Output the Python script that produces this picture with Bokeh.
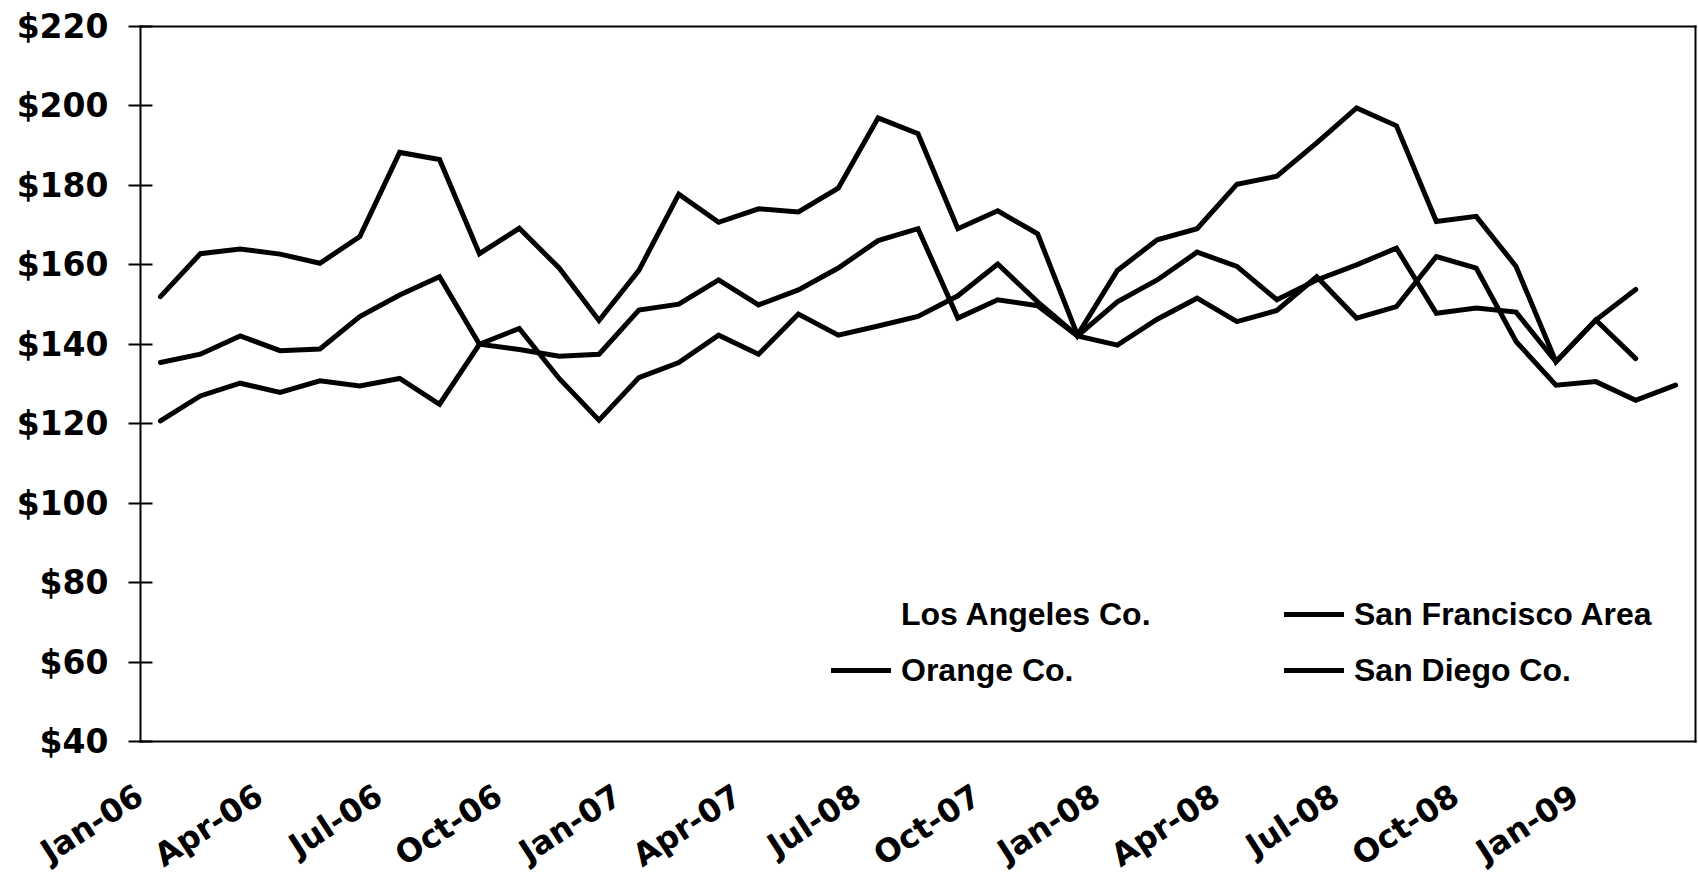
import math
from bokeh.plotting import figure
from bokeh.models import (Range1d, FixedTicker, NumeralTickFormatter, Legend, LegendItem,
                          LinearAxis)
from bokeh.core.properties import value
from bokeh.embed import file_html
from bokeh.resources import INLINE

# ---------------- data ----------------
months = ["Jan-06", "Feb-06", "Mar-06", "Apr-06", "May-06", "Jun-06", "Jul-06", "Aug-06", "Sep-06",
          "Oct-06", "Nov-06", "Dec-06", "Jan-07", "Feb-07", "Mar-07", "Apr-07", "May-07", "Jun-07",
          "Jul-07", "Aug-07", "Sep-07", "Oct-07", "Nov-07", "Dec-07", "Jan-08", "Feb-08", "Mar-08",
          "Apr-08", "May-08", "Jun-08", "Jul-08", "Aug-08", "Sep-08", "Oct-08", "Nov-08", "Dec-08",
          "Jan-09", "Feb-09", "Mar-09"]

# labels shown on the axis (every third month, as printed in the original, incl. its "Jul-08")
tick_months = ["Jan-06", "Apr-06", "Jul-06", "Oct-06", "Jan-07", "Apr-07", "Jul-07",
               "Oct-07", "Jan-08", "Apr-08", "Jul-08", "Oct-08", "Jan-09"]
tick_labels = ["Jan-06", "Apr-06", "Jul-06", "Oct-06", "Jan-07", "Apr-07", "Jul-08",
               "Oct-07", "Jan-08", "Apr-08", "Jul-08", "Oct-08", "Jan-09"]

y_ticks = [40, 60, 80, 100, 120, 140, 160, 180, 200, 220]

los_angeles = []  # series drawn without a visible line in the original

san_francisco = [152.0, 162.8, 164.0, 162.7, 160.4, 167.1, 188.3, 186.5, 162.8, 169.2,
                 159.2, 146.0, 158.6, 177.8, 170.7, 174.1, 173.3, 179.3, 197.0, 193.0,
                 169.1, 173.6, 167.8, 142.3, 158.6, 166.3, 169.1, 180.3, 182.3, 190.7,
                 199.5, 195.0, 170.9, 172.2, 159.6, 135.6, 146.1, 136.4]

orange = [135.4, 137.5, 142.1, 138.4, 138.8, 147.0, 152.4, 157.0, 140.0, 138.7,
          137.0, 137.5, 148.6, 150.1, 156.2, 149.9, 153.7, 159.2, 166.1, 169.1,
          146.6, 151.2, 149.7, 142.1, 139.8, 146.3, 151.6, 145.7, 148.5, 157.0,
          146.6, 149.5, 162.1, 159.2, 140.7, 129.7, 130.6, 125.9, 129.7]

san_diego = [120.7, 127.0, 130.2, 127.9, 130.8, 129.5, 131.4, 124.9, 140.0, 144.0,
             131.4, 120.9, 131.6, 135.4, 142.3, 137.5, 147.6, 142.3, 144.6, 147.0,
             152.2, 160.2, 150.7, 142.1, 150.7, 156.2, 163.2, 159.6, 151.2, 156.2,
             160.0, 164.2, 147.8, 149.1, 148.1, 135.6, 146.1, 153.8]

# month positions on the axis (category index)
pos = {m: i for i, m in enumerate(months)}

def xs(series):
    return [pos[m] for m in months[:len(series)]]

# ---------------- layout ----------------
W, H = 1698, 876
LEFT, RIGHT, TOP, BOTTOM = 140, 3, 26, 135   # margins around the plotting box
LEG_FONT = "Liberation Sans"
AX_FONT = "DejaVu Sans"
Y_MIN, Y_MAX = y_ticks[0], y_ticks[-1]
X_START, X_END = -0.5, len(months) - 0.5

ppx = (W - LEFT - RIGHT) / (X_END - X_START)
ppy = (H - TOP - BOTTOM) / (Y_MAX - Y_MIN)

# the drawing area covers the whole canvas; the boxed plot area is drawn with bounded axes
p = figure(width=W, height=H,
           x_range=Range1d(X_START - LEFT / ppx, X_END + RIGHT / ppx),
           y_range=Range1d(Y_MIN - BOTTOM / ppy, Y_MAX + TOP / ppy),
           output_backend="svg", toolbar_location=None,
           x_axis_location=None, y_axis_location=None,
           min_border=0, min_border_left=0, min_border_right=0,
           min_border_top=0, min_border_bottom=0)
p.xgrid.visible = False
p.ygrid.visible = False
p.outline_line_color = None
p.background_fill_color = "white"
p.border_fill_color = "white"

# y axis
yax = LinearAxis(fixed_location=X_START, bounds=(Y_MIN, Y_MAX),
                 ticker=FixedTicker(ticks=y_ticks),
                 formatter=NumeralTickFormatter(format="$0"),
                 axis_line_width=2, axis_line_cap="square",
                 major_tick_line_width=2, major_tick_out=12, major_tick_in=12,
                 minor_tick_line_color=None, major_label_standoff=20,
                 major_label_text_font=AX_FONT, major_label_text_font_style="bold",
                 major_label_text_font_size="33px", major_label_text_color="black")
p.add_layout(yax, "left")

# x axis line and the remaining sides of the box
def border(loc, bnds):
    return LinearAxis(fixed_location=loc, bounds=bnds, ticker=FixedTicker(ticks=[]),
                      axis_line_width=2, axis_line_cap="square",
                      major_tick_line_color=None, minor_tick_line_color=None,
                      major_tick_out=0, major_tick_in=0, major_label_standoff=0)

p.add_layout(border(Y_MIN, (X_START, X_END)), "below")
p.add_layout(border(Y_MAX, (X_START, X_END)), "above")
p.add_layout(border(X_END, (Y_MIN, Y_MAX)), "right")

# slanted month labels under the x axis
p.text(x=[pos[m] for m in tick_months], y=[Y_MIN] * len(tick_months), text=tick_labels,
       angle=math.radians(33), x_offset=-31, y_offset=35,
       text_align="right", text_baseline="top",
       text_font=value(AX_FONT), text_font_style="bold",
       text_font_size="32px", text_color="black")

# lines
style = dict(line_color="black", line_width=5, line_join="miter", line_cap="round")
r_la = p.line(x=xs(los_angeles), y=los_angeles, line_color="white", line_width=5, line_alpha=0)
r_sf = p.line(x=xs(san_francisco), y=san_francisco, **style)
r_or = p.line(x=xs(orange), y=orange, **style)
r_sd = p.line(x=xs(san_diego), y=san_diego, **style)

leg_style = dict(padding=0, margin=0, spacing=0, glyph_width=60, glyph_height=56,
                 label_height=56, label_standoff=10, border_line_color=None,
                 background_fill_alpha=0, label_text_font=LEG_FONT,
                 label_text_font_style="bold", label_text_font_size="32px",
                 label_text_color="black", orientation="vertical")

leg1 = Legend(items=[LegendItem(label="Los Angeles Co.", renderers=[r_la]),
                     LegendItem(label="Orange Co.", renderers=[r_or])],
              location=(LEFT + 691, BOTTOM + 43), **leg_style)
leg2 = Legend(items=[LegendItem(label="San Francisco Area", renderers=[r_sf]),
                     LegendItem(label="San Diego Co.", renderers=[r_sd])],
              location=(LEFT + 1144, BOTTOM + 43), **leg_style)
p.add_layout(leg1)
p.add_layout(leg2)

open("out.html", "w").write(file_html(p, INLINE))
